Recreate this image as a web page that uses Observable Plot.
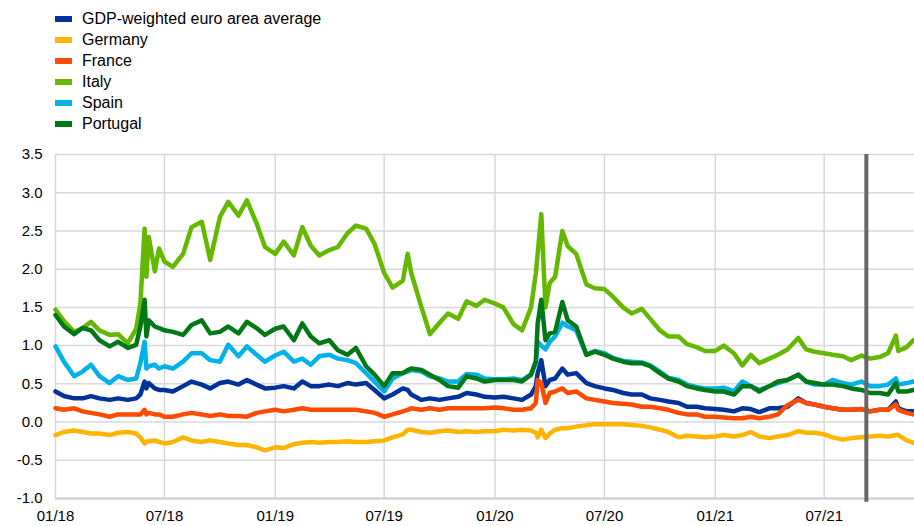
<!DOCTYPE html>
<html><head><meta charset="utf-8">
<script src="https://cdn.jsdelivr.net/npm/d3@7"></script>
<script src="https://cdn.jsdelivr.net/npm/@observablehq/plot@0.6"></script>
<style>
body{margin:0;background:#fff;font-family:Arial,"Liberation Sans",sans-serif;}
#legend{position:relative;height:135px;width:914px;}
.item{position:absolute;left:55px;height:21px;display:flex;align-items:center;font-size:16px;color:#000;white-space:nowrap;}
.sw{width:17px;height:6px;margin-right:10px;}
#chart svg{display:block;}
</style></head><body>
<div id="legend"></div><div id="chart"></div>
<script>
const dates = [
"2018-01-01","2018-01-15","2018-02-01","2018-02-15","2018-03-01","2018-03-15","2018-04-01","2018-04-15","2018-05-01","2018-05-15","2018-05-22","2018-05-29","2018-06-01","2018-06-05","2018-06-15","2018-06-22","2018-07-01","2018-07-15","2018-08-01","2018-08-15","2018-09-01","2018-09-15","2018-10-01","2018-10-15","2018-11-01","2018-11-15","2018-12-01","2018-12-15",
"2019-01-01","2019-01-15","2019-02-01","2019-02-15","2019-03-01","2019-03-15","2019-04-01","2019-04-15","2019-05-01","2019-05-15","2019-06-01","2019-06-15","2019-07-01","2019-07-15","2019-08-01","2019-08-09","2019-08-15","2019-09-01","2019-09-15","2019-10-01","2019-10-15","2019-11-01","2019-11-15","2019-12-01","2019-12-15",
"2020-01-01","2020-01-15","2020-02-01","2020-02-15","2020-03-01","2020-03-09","2020-03-12","2020-03-18","2020-03-25","2020-04-01","2020-04-10","2020-04-22","2020-05-01","2020-05-15","2020-06-01","2020-06-15","2020-07-01","2020-07-15","2020-08-01","2020-08-15","2020-09-01","2020-09-15","2020-10-01","2020-10-15","2020-11-01","2020-11-15","2020-12-01","2020-12-15",
"2021-01-01","2021-01-15","2021-02-01","2021-02-15","2021-03-01","2021-03-15","2021-04-01","2021-04-15","2021-05-01","2021-05-19","2021-06-01","2021-06-15","2021-07-01","2021-07-15","2021-08-01","2021-08-15","2021-09-01","2021-09-15","2021-10-01","2021-10-15","2021-10-28","2021-11-01","2021-11-15","2021-11-26"
];

const euroArea = [
0.40,0.34,0.31,0.31,0.34,0.31,0.29,0.31,0.29,0.31,0.36,0.53,0.44,0.51,0.44,0.42,0.42,0.40,0.47,0.53,0.49,0.44,0.51,0.53,0.49,0.55,0.49,0.44,
0.45,0.47,0.44,0.53,0.47,0.47,0.49,0.47,0.51,0.49,0.51,0.42,0.31,0.36,0.44,0.42,0.36,0.29,0.31,0.29,0.31,0.33,0.38,0.36,0.33,
0.32,0.33,0.31,0.29,0.36,0.47,0.64,0.81,0.47,0.55,0.57,0.70,0.62,0.64,0.51,0.47,0.44,0.42,0.38,0.36,0.36,0.31,0.29,0.27,0.25,0.20,0.20,0.18,
0.17,0.16,0.14,0.18,0.17,0.13,0.18,0.18,0.20,0.31,0.25,0.23,0.20,0.18,0.16,0.16,0.17,0.14,0.16,0.16,0.27,0.18,0.14,0.14
];
const germany = [
-0.17,-0.13,-0.11,-0.13,-0.15,-0.15,-0.17,-0.14,-0.13,-0.15,-0.20,-0.28,-0.26,-0.25,-0.24,-0.26,-0.28,-0.26,-0.20,-0.24,-0.26,-0.24,-0.26,-0.28,-0.30,-0.30,-0.33,-0.37,
-0.33,-0.34,-0.29,-0.27,-0.26,-0.27,-0.26,-0.26,-0.25,-0.26,-0.26,-0.25,-0.24,-0.20,-0.16,-0.10,-0.10,-0.13,-0.14,-0.12,-0.11,-0.13,-0.12,-0.13,-0.12,
-0.12,-0.10,-0.11,-0.10,-0.11,-0.14,-0.20,-0.10,-0.21,-0.15,-0.10,-0.08,-0.08,-0.06,-0.04,-0.03,-0.03,-0.03,-0.03,-0.04,-0.05,-0.07,-0.10,-0.13,-0.20,-0.18,-0.19,-0.20,
-0.19,-0.17,-0.19,-0.17,-0.13,-0.19,-0.21,-0.19,-0.17,-0.12,-0.14,-0.14,-0.16,-0.20,-0.23,-0.21,-0.20,-0.19,-0.18,-0.19,-0.17,-0.17,-0.24,-0.27
];
const france = [
0.18,0.16,0.18,0.14,0.12,0.10,0.07,0.10,0.10,0.10,0.10,0.16,0.10,0.12,0.10,0.10,0.07,0.07,0.10,0.12,0.10,0.08,0.10,0.08,0.08,0.07,0.12,0.14,
0.16,0.14,0.16,0.18,0.16,0.16,0.16,0.16,0.16,0.16,0.14,0.12,0.07,0.10,0.14,0.16,0.18,0.16,0.18,0.16,0.18,0.18,0.18,0.18,0.18,
0.19,0.18,0.16,0.16,0.18,0.25,0.55,0.51,0.25,0.38,0.40,0.44,0.38,0.40,0.31,0.29,0.27,0.25,0.24,0.23,0.20,0.20,0.18,0.16,0.12,0.10,0.10,0.07,
0.07,0.06,0.05,0.05,0.07,0.05,0.07,0.10,0.22,0.29,0.25,0.23,0.20,0.18,0.16,0.16,0.17,0.14,0.16,0.16,0.23,0.16,0.12,0.10
];
const italy = [
1.47,1.32,1.18,1.23,1.31,1.20,1.14,1.15,1.03,1.22,1.55,2.53,1.90,2.42,1.97,2.27,2.10,2.03,2.20,2.55,2.62,2.12,2.68,2.88,2.70,2.90,2.60,2.29,
2.20,2.36,2.18,2.55,2.31,2.18,2.25,2.29,2.47,2.57,2.53,2.33,1.95,1.76,1.85,2.20,1.95,1.50,1.15,1.30,1.42,1.35,1.58,1.52,1.60,
1.55,1.50,1.28,1.20,1.50,1.95,2.20,2.72,1.50,1.82,1.90,2.50,2.30,2.20,1.80,1.75,1.74,1.64,1.50,1.42,1.48,1.35,1.20,1.12,1.12,1.02,0.98,0.93,
0.93,1.00,0.90,0.74,0.88,0.77,0.83,0.88,0.95,1.10,0.95,0.92,0.90,0.88,0.86,0.81,0.87,0.83,0.85,0.90,1.13,0.93,0.98,1.07
];
const spain = [
0.99,0.79,0.60,0.66,0.75,0.60,0.51,0.60,0.55,0.57,0.77,1.05,0.70,0.73,0.75,0.70,0.73,0.70,0.79,0.90,0.90,0.81,0.79,1.01,0.86,0.99,0.88,0.79,
0.87,0.92,0.79,0.83,0.75,0.86,0.88,0.83,0.81,0.77,0.64,0.53,0.40,0.57,0.64,0.66,0.68,0.66,0.60,0.57,0.53,0.53,0.63,0.62,0.57,
0.56,0.56,0.57,0.55,0.62,0.78,1.05,1.00,0.95,1.05,1.12,1.30,1.25,1.20,0.88,0.93,0.90,0.84,0.80,0.79,0.78,0.74,0.66,0.58,0.55,0.49,0.46,0.44,
0.44,0.45,0.40,0.53,0.47,0.42,0.47,0.51,0.55,0.62,0.53,0.49,0.49,0.55,0.51,0.49,0.53,0.47,0.47,0.49,0.57,0.49,0.51,0.53
];
const portugal = [
1.40,1.25,1.15,1.23,1.20,1.07,0.99,1.05,0.97,1.01,1.25,1.60,1.12,1.33,1.25,1.23,1.20,1.18,1.14,1.27,1.33,1.16,1.18,1.25,1.16,1.31,1.23,1.14,
1.22,1.25,1.07,1.29,1.12,1.03,1.07,0.94,0.88,0.97,0.73,0.62,0.47,0.64,0.64,0.68,0.70,0.68,0.62,0.55,0.47,0.45,0.60,0.57,0.53,
0.55,0.55,0.55,0.53,0.62,0.80,1.29,1.60,1.07,1.16,1.18,1.57,1.33,1.25,0.88,0.92,0.88,0.83,0.79,0.77,0.77,0.73,0.64,0.57,0.53,0.47,0.44,0.42,
0.40,0.40,0.36,0.47,0.47,0.40,0.47,0.53,0.55,0.62,0.53,0.51,0.49,0.49,0.47,0.44,0.42,0.38,0.38,0.36,0.51,0.40,0.40,0.42
];

const seriesNames = ["GDP-weighted euro area average","Germany","France","Italy","Spain","Portugal"];
const seriesColors = ["#003299","#FFB400","#FF4B00","#65B800","#00B1EA","#007816"];
const seriesValues = [euroArea, germany, france, italy, spain, portugal];
const yTicks = [-1.0,-0.5,0.0,0.5,1.0,1.5,2.0,2.5,3.0,3.5];
const xTicks = ["2018-01-01","2018-07-01","2019-01-01","2019-07-01","2020-01-01","2020-07-01","2021-01-01","2021-07-01"];
const xDomain = ["2018-01-01","2021-11-28"];
const markerDate = ["2021-09-09"];

// legend
const legend = document.getElementById("legend");
seriesNames.forEach((n, i) => {
  const it = document.createElement("div");
  it.className = "item";
  it.style.top = (8.5 + i * 21.06) + "px";
  const sw = document.createElement("span");
  sw.className = "sw";
  sw.style.background = seriesColors[i];
  it.appendChild(sw);
  it.appendChild(document.createTextNode(n));
  legend.appendChild(it);
});

const rows = [];
seriesNames.forEach((n, i) => {
  seriesValues[i].forEach((v, j) => rows.push({series: n, date: new Date(dates[j]), value: v}));
});
const xTickDates = xTicks.map(d => new Date(d));

const chart = Plot.plot({
  width: 914, height: 391,
  marginTop: 19, marginBottom: 28, marginLeft: 55, marginRight: 0,
  style: {fontFamily: 'Arial, "Liberation Sans", sans-serif', fontSize: "15px", color: "#000", background: "#fff"},
  x: {type: "utc", domain: xDomain.map(d => new Date(d)), ticks: xTickDates, tickFormat: d3.utcFormat("%m/%y"), tickSize: 0, tickPadding: 12, label: null},
  y: {domain: [-1, 3.5], ticks: yTicks, tickFormat: d => d.toFixed(1), tickSize: 0, tickPadding: 13, label: null},
  color: {domain: seriesNames, range: seriesColors},
  marks: [
    Plot.gridY(yTicks, {stroke: "#d9d9d9", strokeOpacity: 1, strokeWidth: 1.5}),
    Plot.gridX(xTickDates, {stroke: "#d9d9d9", strokeOpacity: 1, strokeWidth: 1.5}),
    Plot.ruleY([-1], {stroke: "#d0d0d0", strokeWidth: 2}),
    Plot.lineY(rows, {x: "date", y: "value", z: "series", stroke: "series", strokeWidth: 4.5, strokeLinejoin: "round"}),
    Plot.ruleX(markerDate.map(d => new Date(d)), {stroke: "#666666", strokeWidth: 4, y1: 3.5, y2: -1.05})
  ]
});
document.getElementById("chart").appendChild(chart);
</script>
</body></html>
